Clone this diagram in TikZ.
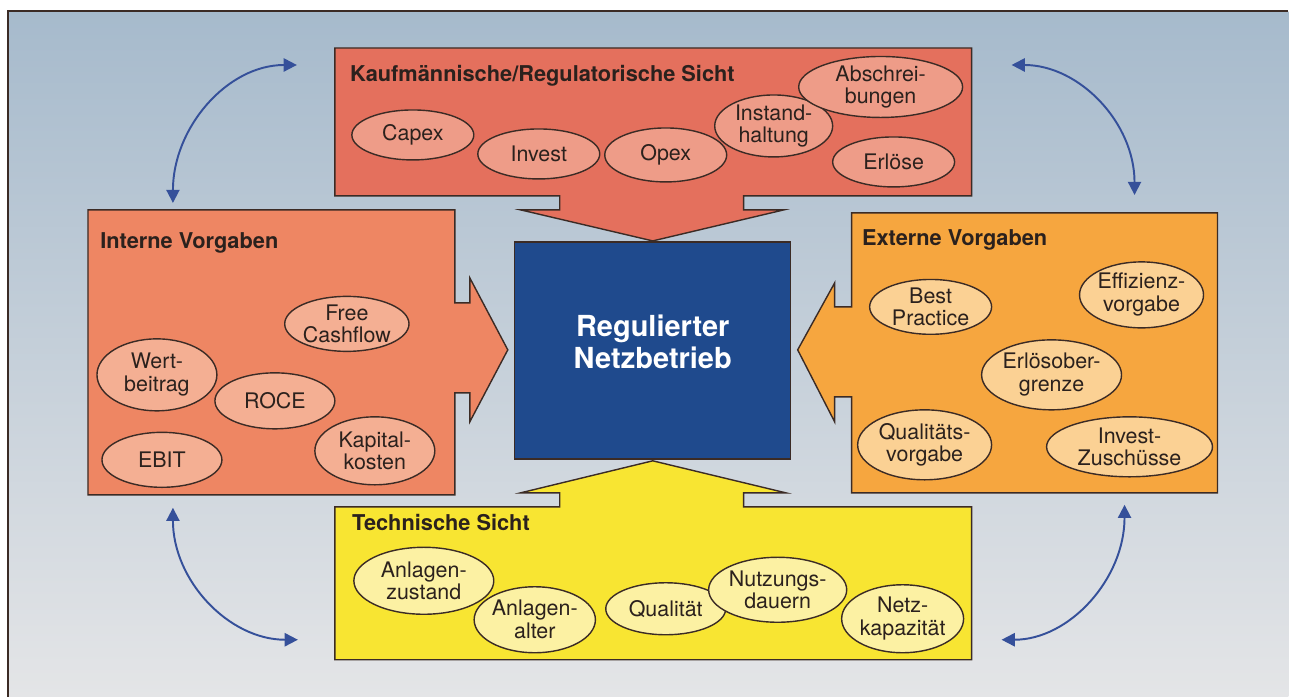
\documentclass[tikz,border=0pt]{standalone}
\usepackage{fontspec}
\setmainfont{TeX Gyre Heros}
\usetikzlibrary{shapes.geometric,arrows.meta}

\definecolor{bgoben}{HTML}{A6BACC}
\definecolor{bgunten}{HTML}{E4E5E7}
\definecolor{rand}{HTML}{3B2B25}
\definecolor{schrift}{HTML}{2B211D}
\definecolor{kfbox}{HTML}{E4705D}
\definecolor{kfhell}{HTML}{EE9C88}
\definecolor{inbox}{HTML}{EE8663}
\definecolor{inhell}{HTML}{F4AF93}
\definecolor{exbox}{HTML}{F6A63F}
\definecolor{exhell}{HTML}{FBD194}
\definecolor{tebox}{HTML}{F8E532}
\definecolor{tehell}{HTML}{FCF1A3}
\definecolor{blau}{HTML}{1F4A8D}
\definecolor{pfeil}{HTML}{35509A}

\tikzset{
    kasten/.style={draw=rand, line width=.8pt},
    blase/.style={ellipse, draw=rand, line width=.8pt, inner sep=0pt, align=center,
        font=\fontsize{12.2}{13}\selectfont, text=schrift},
    titel/.style={anchor=west, inner sep=0pt, font=\bfseries\fontsize{12.4}{14}\selectfont, text=schrift},
    wechsel/.style={{Triangle[length=7.5pt,width=7.5pt]}-{Triangle[length=7.5pt,width=7.5pt]},
        draw=pfeil, line width=1.1pt},
}

\begin{document}
\begin{tikzpicture}[x=0.02cm, y=-0.02cm]
    % Hintergrund.
    \fill[white] (0,0) rectangle (1289,697);
    \shade[top color=bgoben, bottom color=bgunten] (8,11) rectangle (1289,697);
    \draw[rand, line width=.6pt] (8,697) -- (8,11) -- (1289,11);

    % Kaesten mit Pfeilen.
    \filldraw[kasten, fill=kfbox] (335,48) -- (972,48) -- (972,196) -- (744,196) -- (744,210)
        -- (784,210) -- (653,241) -- (521,210) -- (560,210) -- (560,196) -- (335,196) -- cycle;
    \filldraw[kasten, fill=tebox] (335,660) -- (972,660) -- (972,507) -- (744,507) -- (744,493)
        -- (786,493) -- (653,461) -- (521,493) -- (560,493) -- (560,507) -- (335,507) -- cycle;
    \filldraw[kasten, fill=inbox] (88,210) -- (455,210) -- (455,303) -- (470,303) -- (470,278)
        -- (508,350) -- (470,422) -- (470,393) -- (455,393) -- (455,495) -- (88,495) -- cycle;
    \filldraw[kasten, fill=exbox] (1218,213) -- (852,213) -- (852,307) -- (835,307) -- (835,283)
        -- (798,350) -- (835,422) -- (835,397) -- (852,397) -- (852,493) -- (1218,493) -- cycle;

    % Mitte.
    \filldraw[kasten, fill=blau] (515,242) rectangle (791,459);
    \node[align=center, text=white, font=\bfseries\fontsize{16.5}{18}\selectfont] (netz) at (653,342)
        {Regulierter\\Netzbetrieb};

    % Ueberschriften.
    \node[titel] (kfm) at (350,76) {Kaufmännische/Regulatorische Sicht};
    \node[titel] (intern) at (100,243) {Interne Vorgaben};
    \node[titel] (extern) at (862,240) {Externe Vorgaben};
    \node[titel] (technik) at (352,523) {Technische Sicht};

    % Kaufmaennische Sicht.
    \node[blase, fill=kfhell, minimum width=2.44cm, minimum height=1.00cm] (capex) at (413,135) {Capex};
    \node[blase, fill=kfhell, minimum width=2.44cm, minimum height=1.00cm] (invest) at (539,154) {Invest};
    \node[blase, fill=kfhell, minimum width=2.44cm, minimum height=1.08cm] (opex) at (666,155) {Opex};
    \node[blase, fill=kfhell, minimum width=2.36cm, minimum height=1.24cm] (instand) at (774,126) {Instand-\\haltung};
    \node[blase, fill=kfhell, minimum width=3.28cm, minimum height=1.10cm] (abschr) at (881,87) {Abschrei-\\bungen};
    \node[blase, fill=kfhell, minimum width=2.44cm, minimum height=1.00cm] (erloese) at (894,162) {Erlöse};

    % Interne Vorgaben.
    \node[blase, fill=inhell, minimum width=2.42cm, minimum height=1.10cm] (cashflow) at (347,324) {Free\\Cashflow};
    \node[blase, fill=inhell, minimum width=2.40cm, minimum height=1.44cm] (wert) at (157,375) {Wert-\\beitrag};
    \node[blase, fill=inhell, minimum width=2.40cm, minimum height=1.12cm] (roce) at (275,401) {ROCE};
    \node[blase, fill=inhell, minimum width=2.40cm, minimum height=1.10cm] (ebit) at (162,460) {EBIT};
    \node[blase, fill=inhell, minimum width=2.40cm, minimum height=1.36cm] (kapital) at (375,451) {Kapital-\\kosten};

    % Externe Vorgaben.
    \node[blase, fill=exhell, minimum width=2.44cm, minimum height=1.06cm] (best) at (931,307) {Best\\Practice};
    \node[blase, fill=exhell, minimum width=2.40cm, minimum height=1.32cm] (effizienz) at (1142,295) {Effizienz-\\vorgabe};
    \node[blase, fill=exhell, minimum width=2.80cm, minimum height=1.40cm] (erloesober) at (1052,375) {Erlösober-\\grenze};
    \node[blase, fill=exhell, minimum width=2.68cm, minimum height=1.40cm] (qualvorg) at (925,445) {Qualitäts-\\vorgabe};
    \node[blase, fill=exhell, minimum width=3.32cm, minimum height=1.20cm] (zuschuss) at (1130,447) {Invest-\\Zuschüsse};

    % Technische Sicht.
    \node[blase, fill=tehell, minimum width=2.80cm, minimum height=1.34cm] (zustand) at (424,581) {Anlagen-\\zustand};
    \node[blase, fill=tehell, minimum width=2.20cm, minimum height=1.32cm] (alter) at (535,620) {Anlagen-\\alter};
    \node[blase, fill=tehell, minimum width=2.40cm, minimum height=1.04cm] (qualitaet) at (666,609) {Qualität};
    \node[blase, fill=tehell, minimum width=2.54cm, minimum height=1.30cm] (nutzung) at (778,590) {Nutzungs-\\dauern};
    \node[blase, fill=tehell, minimum width=2.44cm, minimum height=1.36cm] (kapaz) at (903,619) {Netz-\\kapazität};

    % Wechselwirkungen.
    \coordinate (lo1) at (173,203);
    \coordinate (lo2) at (297,65);
    \coordinate (ro1) at (1012,65);
    \coordinate (ro2) at (1135,195);
    \coordinate (lu1) at (173,508);
    \coordinate (lu2) at (298,640);
    \coordinate (ru1) at (1125,505);
    \coordinate (ru2) at (1002,640);
    \draw[wechsel] (lo1) .. controls +(0,-75) and +(-70,0) .. (lo2);
    \draw[wechsel] (ro1) .. controls +(68,0) and +(0,-72) .. (ro2);
    \draw[wechsel] (lu1) .. controls +(0,73) and +(-69,0) .. (lu2);
    \draw[wechsel] (ru1) .. controls +(0,74) and +(68,0) .. (ru2);
\end{tikzpicture}
\end{document}
